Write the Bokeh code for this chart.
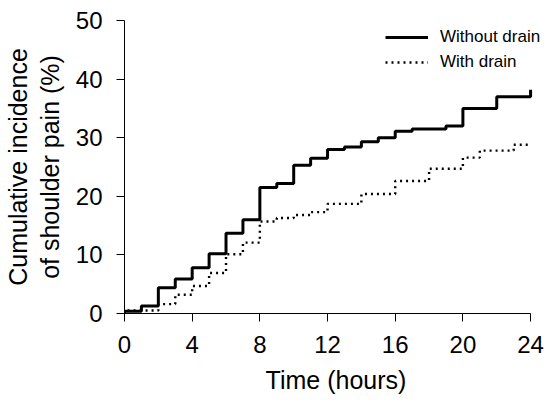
from bokeh.plotting import figure
from bokeh.models import FixedTicker, Legend, LegendItem, Range1d
from bokeh.embed import file_html
from bokeh.resources import INLINE

# Data
hours_without = [0, 0, 1, 2, 3, 4, 5, 6, 7, 8, 9, 10, 11, 12, 13, 14, 15, 16, 17, 19, 20, 22, 24]
pct_without = [0, 0.4, 1.3, 4.4, 5.9, 7.8, 10.2, 13.7, 16.0, 21.5, 22.2, 25.3, 26.5, 28.0, 28.4, 29.3, 30.0, 31.1, 31.5, 32.0, 35.0, 37.0, 38.2]

hours_with = [0, 0, 2, 3, 4, 5, 6, 7, 8, 9, 10, 11, 12, 14, 16, 18, 20, 21, 23, 24]
pct_with = [0, 0.5, 1.6, 3.2, 4.7, 6.9, 10.1, 12.1, 15.7, 16.3, 16.8, 17.3, 18.7, 20.4, 22.6, 24.7, 26.6, 27.8, 28.8, 28.8]

x_ticks = [0, 4, 8, 12, 16, 20, 24]
y_ticks = [0, 10, 20, 30, 40, 50]
series_labels = ["Without drain", "With drain"]

FONT = "Liberation Sans"

p = figure(width=547, height=401, output_backend="svg", toolbar_location=None,
           x_range=Range1d(0, 25.0), y_range=Range1d(0, 50),
           min_border_left=124, min_border_right=0, min_border_top=20, min_border_bottom=88)
p.outline_line_color = None
p.grid.visible = False
p.background_fill_color = "white"
p.border_fill_color = "white"

r1 = p.step(hours_without, pct_without, mode="after", line_color="black", line_width=3)
r2 = p.step(hours_with, pct_with, mode="after", line_color="black", line_width=2.4, line_dash="2 4")

for ax in (p.xaxis[0], p.yaxis[0]):
    ax.major_tick_in = 0
    ax.major_tick_out = 8
    ax.minor_tick_line_color = None
    ax.axis_line_color = "black"
    ax.axis_line_width = 1
    ax.major_tick_line_color = "black"
    ax.major_label_text_font = FONT
    ax.major_label_text_font_size = "24px"
    ax.major_label_text_color = "black"
    ax.axis_label_text_font = FONT
    ax.axis_label_text_font_size = "25px"
    ax.axis_label_text_font_style = "normal"
    ax.axis_label_text_color = "black"

p.yaxis.axis_label_text_line_height = 1.12
p.xaxis.ticker = FixedTicker(ticks=x_ticks)
p.yaxis.ticker = FixedTicker(ticks=y_ticks)
p.xaxis.bounds = (0, 24)
p.yaxis.bounds = (0, 50)
p.xaxis.axis_label = "Time (hours)"
p.yaxis.axis_label = "Cumulative incidence\nof shoulder pain (%)"
p.xaxis.major_label_standoff = 14
p.yaxis.major_label_standoff = 14
p.xaxis.axis_label_standoff = 10
p.yaxis.axis_label_standoff = 9

legend = Legend(items=[LegendItem(label=series_labels[0], renderers=[r1]),
                       LegendItem(label=series_labels[1], renderers=[r2])],
                location=(261, 241))
legend.border_line_color = None
legend.background_fill_alpha = 0
legend.label_text_font = FONT
legend.label_text_font_size = "17px"
legend.label_text_color = "black"
legend.glyph_width = 43
legend.label_standoff = 12
legend.padding = 0
legend.margin = 0
legend.spacing = 5
p.add_layout(legend)

open("out.html", "w").write(file_html(p, INLINE))
